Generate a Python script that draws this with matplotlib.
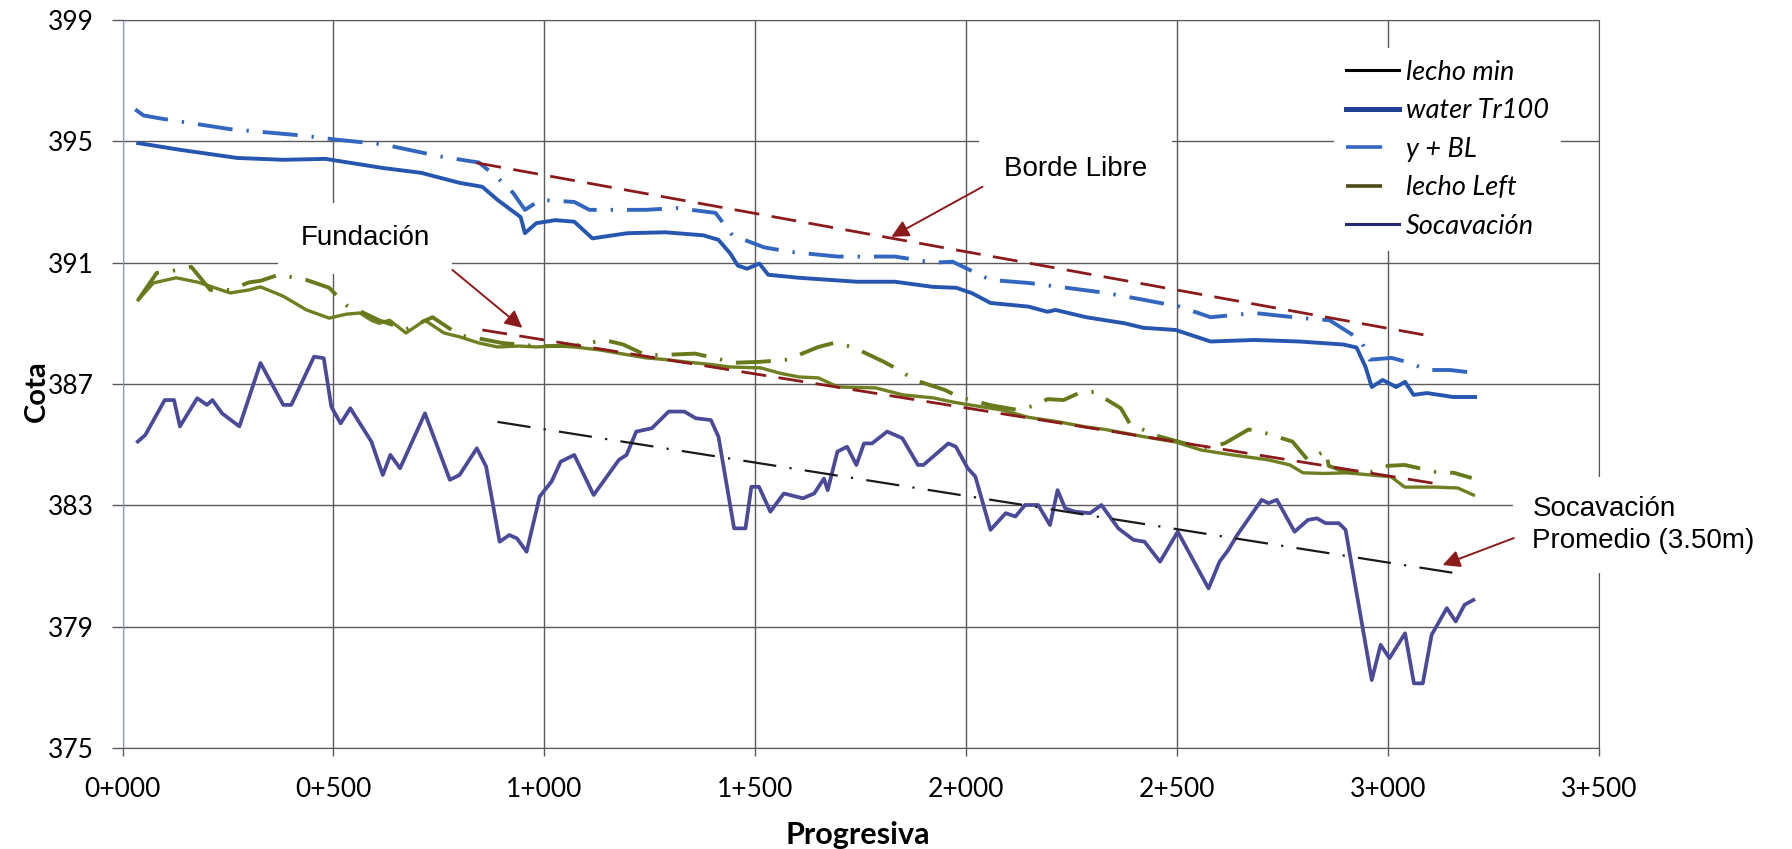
import matplotlib
matplotlib.use("Agg")
import matplotlib.pyplot as plt
from matplotlib.lines import Line2D
from matplotlib.ticker import FuncFormatter, MultipleLocator

# =============================================================================
# Data (progresiva in m, cota in m)
# =============================================================================

water_x = [37, 136, 272, 381, 481, 617, 708, 799, 853, 889, 944, 954, 981, 1026, 1071, 1114,
           1197, 1287, 1377, 1413, 1441, 1459, 1481, 1510, 1531, 1604, 1741, 1831, 1922, 1977,
           2013, 2058, 2148, 2193, 2212, 2285, 2376, 2421, 2497, 2580, 2684, 2790, 2895, 2926,
           2947, 2962, 2988, 3020, 3041, 3061, 3093, 3155, 3207]
water_y = [394.94, 394.72, 394.45, 394.39, 394.42, 394.12, 393.96, 393.63, 393.5, 393.07, 392.5,
           391.97, 392.3, 392.4, 392.35, 391.8, 391.97, 392.0, 391.9, 391.75, 391.3, 390.9, 390.8,
           390.97, 390.6, 390.5, 390.37, 390.37, 390.2, 390.17, 390.0, 389.67, 389.55, 389.38,
           389.44, 389.2, 389.0, 388.85, 388.78, 388.4, 388.45, 388.4, 388.3, 388.2, 387.57, 386.9,
           387.13, 386.9, 387.07, 386.64, 386.7, 386.57, 386.57]

bl_x = [30, 50, 91, 255, 418, 510, 617, 753, 845, 889, 926, 954, 991, 1071, 1107, 1241, 1313,
        1406, 1446, 1522, 1586, 1696, 1831, 1923, 1968, 2058, 2148, 2222, 2332, 2411, 2506, 2580,
        2684, 2790, 2862, 2936, 2957, 3009, 3052, 3093, 3147, 3203]
bl_y = [396.05, 395.85, 395.75, 395.4, 395.2, 395.05, 394.9, 394.5, 394.3, 393.8, 393.3, 392.74,
        393.07, 393.0, 392.74, 392.74, 392.8, 392.64, 391.9, 391.5, 391.35, 391.2, 391.2, 391.0,
        391.03, 390.43, 390.33, 390.2, 390.0, 389.8, 389.55, 389.2, 389.34, 389.18, 389.1, 388.45,
        387.8, 387.86, 387.7, 387.46, 387.46, 387.37]

lmin_x = [37, 73, 127, 180, 255, 300, 327, 380, 436, 490, 530, 563, 590, 608, 633, 672, 717, 762,
          800, 845, 889, 940, 981, 1030, 1071, 1132, 1190, 1241, 1290, 1332, 1390, 1441, 1513,
          1560, 1604, 1650, 1696, 1786, 1850, 1923, 1970, 2013, 2086, 2148, 2220, 2285, 2330,
          2376, 2422, 2496, 2558, 2632, 2716, 2768, 2799, 2850, 2903, 3008, 3040, 3114, 3166, 3203]
lmin_y = [389.77, 390.33, 390.5, 390.35, 390.0, 390.1, 390.2, 389.9, 389.44, 389.17, 389.3, 389.34,
          389.1, 389.0, 389.1, 388.68, 389.1, 388.68, 388.55, 388.35, 388.22, 388.25, 388.22,
          388.25, 388.22, 388.12, 387.98, 387.86, 387.8, 387.73, 387.65, 387.56, 387.53, 387.35,
          387.23, 387.2, 386.9, 386.87, 386.64, 386.54, 386.4, 386.3, 386.14, 385.9, 385.75,
          385.58, 385.5, 385.38, 385.26, 385.09, 384.82, 384.66, 384.5, 384.33, 384.07, 384.05,
          384.07, 383.94, 383.6, 383.6, 383.57, 383.34]

lleft_x = [37, 81, 127, 163, 208, 255, 300, 327, 370, 436, 490, 530, 563, 608, 672, 735, 800, 845,
           900, 981, 1071, 1142, 1187, 1241, 1287, 1358, 1451, 1513, 1576, 1650, 1686, 1731, 1805,
           1841, 1878, 1950, 1984, 2058, 2120, 2167, 2193, 2231, 2268, 2303, 2367, 2388, 2450,
           2530, 2580, 2614, 2670, 2706, 2774, 2810, 2853, 2860, 2900, 2960, 3000, 3040, 3114,
           3157, 3199]
lleft_y = [389.77, 390.66, 390.75, 390.86, 390.1, 390.1, 390.35, 390.4, 390.6, 390.43, 390.17,
           389.6, 389.4, 389.1, 388.8, 389.2, 388.6, 388.5, 388.35, 388.25, 388.25, 388.45, 388.3,
           387.95, 387.96, 388.0, 387.7, 387.73, 387.8, 388.22, 388.35, 388.22, 387.73, 387.46,
           387.13, 386.8, 386.57, 386.3, 386.15, 386.3, 386.5, 386.47, 386.7, 386.74, 386.2, 385.7,
           385.3, 385.0, 384.9, 385.05, 385.5, 385.4, 385.1, 384.5, 384.8, 384.3, 384.1, 384.1,
           384.3, 384.33, 384.1, 384.07, 383.9]

soc_x = [36, 54, 100, 122, 136, 177, 200, 213, 236, 277, 327, 381, 400, 454, 477, 495, 517, 540,
         590, 617, 635, 658, 717, 776, 799, 840, 862, 894, 917, 935, 958, 989, 1017, 1039, 1071,
         1117, 1177, 1195, 1218, 1255, 1295, 1332, 1359, 1395, 1413, 1450, 1477, 1491, 1509, 1536,
         1568, 1613, 1640, 1663, 1672, 1695, 1718, 1740, 1758, 1777, 1813, 1849, 1886, 1899, 1958,
         1976, 2004, 2022, 2058, 2094, 2117, 2140, 2171, 2199, 2217, 2235, 2258, 2294, 2321, 2361,
         2397, 2423, 2460, 2502, 2575, 2601, 2622, 2643, 2701, 2717, 2737, 2779, 2811, 2832, 2853,
         2884, 2900, 2962, 2983, 3004, 3041, 3062, 3083, 3104, 3140, 3161, 3182, 3203]
soc_y = [385.10, 385.32, 386.47, 386.47, 385.6, 386.53, 386.31, 386.47, 386.03, 385.6, 387.69,
         386.31, 386.31, 387.9, 387.85, 386.25, 385.7, 386.2, 385.1, 384.0, 384.66, 384.22, 386.03,
         383.84, 384.0, 384.88, 384.28, 381.8, 382.02, 381.91, 381.47, 383.29, 383.78, 384.44,
         384.66, 383.34, 384.5, 384.66, 385.43, 385.54, 386.09, 386.09, 385.87, 385.81, 385.26,
         382.24, 382.24, 383.61, 383.61, 382.79, 383.39, 383.23, 383.39, 383.88, 383.5, 384.77,
         384.93, 384.33, 385.04, 385.04, 385.43, 385.21, 384.33, 384.33, 385.04, 384.93, 384.22,
         383.95, 382.19, 382.74, 382.63, 383.01, 383.01, 382.35, 383.5, 382.9, 382.79, 382.74,
         383.01, 382.24, 381.86, 381.80, 381.14, 382.13, 380.26, 381.14, 381.53, 382.02, 383.18,
         383.07, 383.18, 382.13, 382.52, 382.57, 382.41, 382.41, 382.19, 377.24, 378.4, 377.96,
         378.78, 377.13, 377.13, 378.73, 379.61, 379.17, 379.72, 379.88]

# trend lines drawn by hand on the original
borde_x, borde_y = [839, 3093], [394.29, 388.6]
fund_x, fund_y = [853, 3134], [388.78, 383.67]
socprom_x, socprom_y = [889, 3157], [385.75, 380.77]

yticks = [375, 379, 383, 387, 391, 395, 399]
legend_labels = ['lecho min', 'water Tr100', 'y + BL', 'lecho Left', 'Socavación']

# =============================================================================
# Plot
# =============================================================================

TICK_FONT = 'Lato'
NOTE_FONT = 'Liberation Sans'
RED = '#8b1a1a'
DASHDOT = (0, (9, 3.6, 0.6, 3.6))   # long dash - dot, in linewidth units

fig = plt.figure(figsize=(17.92, 8.49), dpi=100)
ax = fig.add_axes([0.0684, 0.119, 0.8237, 0.8575])

ax.plot(lmin_x, lmin_y, color='#6f7f22', lw=2.4, zorder=3)
ax.plot(lleft_x, lleft_y, color='#667a1c', lw=2.8, linestyle=DASHDOT, zorder=3)
ax.plot(bl_x, bl_y, color='#3366c0', lw=2.8, linestyle=DASHDOT, zorder=3)
ax.plot(water_x, water_y, color='#2656b0', lw=2.8, zorder=3)
ax.plot(soc_x, soc_y, color='#4a4a98', lw=2.7, zorder=3)

ax.plot(borde_x, borde_y, color=RED, lw=2.0, linestyle=(0, (9, 4.5)), zorder=4)
ax.plot(fund_x, fund_y, color=RED, lw=2.0, linestyle=(0, (9, 4.5)), zorder=4)
ax.plot(socprom_x, socprom_y, color='#1a1a1a', lw=1.6, linestyle=(0, (15, 6, 1, 6)), zorder=4)

# annotations
arrow = dict(arrowstyle='-|>', color=RED, lw=1.4, mutation_scale=26, shrinkA=0, shrinkB=0)

ax.text(2089, 394.09, 'Borde Libre', fontsize=20, family=NOTE_FONT, va='center', ha='left',
        bbox=dict(boxstyle='square,pad=0.9', facecolor='white', edgecolor='none'), zorder=5)
ax.annotate('', xy=(1823, 391.85), xytext=(2039, 393.5), arrowprops=arrow, zorder=6)

ax.text(422, 391.8, 'Fundación', fontsize=20, family=NOTE_FONT, va='center', ha='left',
        bbox=dict(boxstyle='square,pad=0.8', facecolor='white', edgecolor='none'), zorder=5)
ax.annotate('', xy=(948, 388.85), xytext=(782, 390.76), arrowprops=arrow, zorder=6)

ax.text(3343, 382.35, 'Socavación\nPromedio (3.50m)', fontsize=20, family=NOTE_FONT,
        va='center', ha='left', linespacing=1.3, zorder=5, clip_on=False,
        bbox=dict(boxstyle='square,pad=0.7', facecolor='white', edgecolor='none'))
ax.annotate('', xy=(3130, 381.03), xytext=(3299, 381.92), arrowprops=arrow, zorder=6,
            annotation_clip=False)

# axes
ax.set_xlim(0, 3500)
ax.set_ylim(375, 399)
ax.xaxis.set_major_locator(MultipleLocator(500))
ax.set_yticks(yticks)
ax.xaxis.set_major_formatter(FuncFormatter(lambda v, p: f"{int(v) // 1000}+{int(v) % 1000:03d}"))
ax.grid(True, color='#5a5a5a', lw=1.0)
ax.set_axisbelow(True)
for side in ['top', 'right', 'bottom']:
    ax.spines[side].set_color('#5a5a5a')
ax.spines['left'].set_color('#8c9cc4')
ax.tick_params(axis='y', length=8, width=1.0, color='#5a5a5a', pad=13, labelsize=19)
ax.tick_params(axis='x', length=6, width=1.0, color='#5a5a5a', pad=15, labelsize=19)
for lab in ax.get_xticklabels() + ax.get_yticklabels():
    lab.set_family(TICK_FONT)

ax.set_xlabel('Progresiva', fontsize=22, fontweight='bold', family=TICK_FONT)
ax.set_ylabel('Cota', fontsize=21, fontweight='bold', family=TICK_FONT)
ax.xaxis.set_label_coords(0.498, -0.1)
ax.yaxis.set_label_coords(-0.049, 0.49)

# legend
handles = [
    Line2D([], [], color='black', lw=2.2),
    Line2D([], [], color='#1f3f93', lw=3.6),
    Line2D([], [], color='#3366c0', lw=2.6, linestyle=(0, (10, 6, 0.6, 4))),
    Line2D([], [], color='#4a4a1a', lw=2.6, linestyle=(0, (10, 6, 0.6, 4))),
    Line2D([], [], color='#262673', lw=2.2),
]
leg = ax.legend(handles, legend_labels, loc='upper left', bbox_to_anchor=(0.7366, 0.96),
                bbox_transform=fig.transFigure, frameon=True, fancybox=False,
                edgecolor='none', facecolor='white', framealpha=1, borderpad=0.45,
                handlelength=1.96, handletextpad=0.26, labelspacing=0.5,
                prop={'family': TICK_FONT, 'style': 'italic', 'size': 19.5})
leg.set_zorder(7)

fig.savefig('out.png', dpi=100, facecolor='white')
